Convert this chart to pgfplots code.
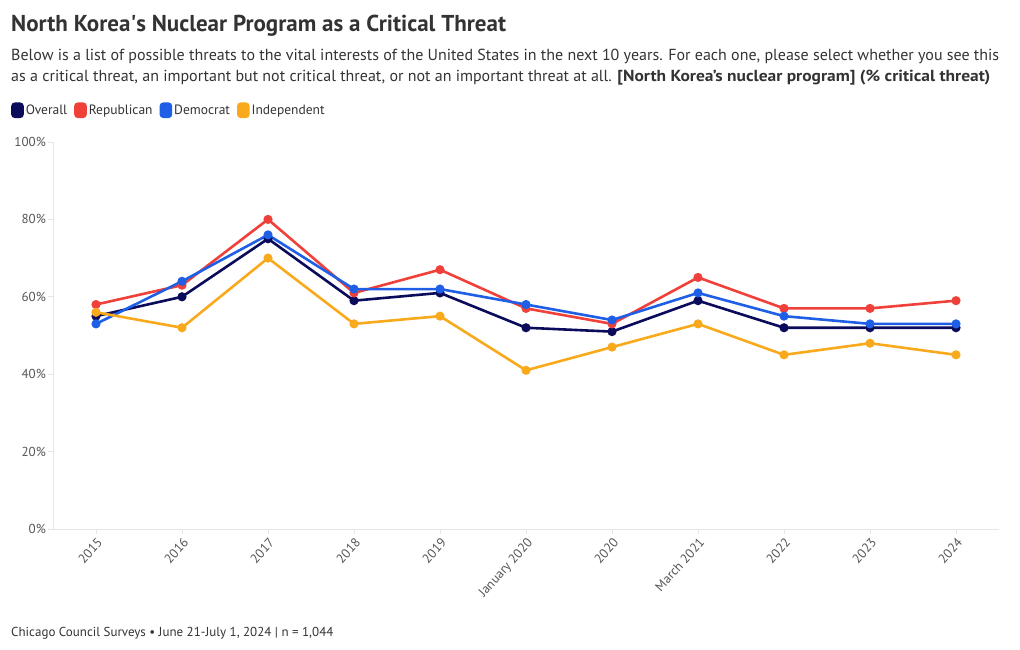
\documentclass[border=0pt]{standalone}
\usepackage{pgfplots}
\pgfplotsset{compat=1.18}
\usepackage{graphicx}
\usepackage{fontspec}
\setmainfont{PT Sans}
\definecolor{cOverall}{HTML}{0B0B5C}
\definecolor{cRep}{HTML}{F0403A}
\definecolor{cDem}{HTML}{1F5FE6}
\definecolor{cInd}{HTML}{F9A91C}
\definecolor{txt}{HTML}{333333}
\definecolor{tickc}{HTML}{555555}
\definecolor{axl}{HTML}{E6E6E6}
\begin{document}
\begin{tikzpicture}[x=1bp,y=1bp]
\path (0,0) rectangle (1020,650);
\node[anchor=base west, text=txt, font=\fontsize{23bp}{27bp}\selectfont\bfseries, inner sep=0] at (11,618) {North Korea\textquotesingle s Nuclear Program as a Critical Threat};
\node[anchor=base west, text=txt, font=\fontsize{16bp}{19bp}\selectfont, inner sep=0] at (11,589) {Below is a list of possible threats to the vital interests of the United States in the next 10 years. For each one, please select whether you see this};
\node[anchor=base west, text=txt, font=\fontsize{16bp}{19bp}\selectfont, inner sep=0] at (11,568) {as a critical threat, an important but not critical threat, or not an important threat at all. \scalebox{1.09}[1]{\textbf{[North Korea’s nuclear program] (\% critical threat)}}};
\node[anchor=base west, text=txt, font=\fontsize{13bp}{15bp}\selectfont, inner sep=0] at (11,13) {Chicago Council Surveys • June 21-July 1, 2024 | n = 1,044};
\begin{axis}[
  at={(53bp,121bp)}, anchor=south west, scale only axis,
  width=946bp, height=387bp,
  xmin=-0.5, xmax=10.5, ymin=0, ymax=100,
  axis x line*=bottom, axis y line*=left,
  axis line style={draw=axl, line width=0.8bp},
  xtick={0,...,10},
  xticklabels={2015,2016,2017,2018,2019,January 2020,2020,March 2021,2022,2023,2024},
  ytick={0,20,40,60,80,100},
  yticklabel={\pgfmathprintnumber{\tick}\%},
  /pgf/number format/assume math mode=true,
  tick style={draw=axl, line width=0.8bp},
  major tick length=5bp,
  tick align=outside,
  ticklabel style={font=\fontsize{13bp}{15bp}\selectfont, text=tickc},
  xticklabel style={rotate=48, anchor=north east, inner sep=2bp},
  yticklabel style={inner sep=2bp},
  clip=false,
  every axis plot/.append style={line width=2.6bp, mark=*, mark size=3.2bp, mark options={solid}},
  legend columns=-1,
  legend style={at={(-0.0444,1.082)}, anchor=west, draw=none, fill=none,
    font=\fontsize{13.5bp}{15bp}\selectfont, text=txt, inner sep=0pt,
    /tikz/every even column/.append style={column sep=5bp}},
  legend image code/.code={\fill[rounded corners=2.5bp] (0bp,-6.5bp) rectangle (10bp,6.5bp);},
]
\addplot[color=cOverall] coordinates {(0,55)(1,60)(2,75)(3,59)(4,61)(5,52)(6,51)(7,59)(8,52)(9,52)(10,52)};
\addlegendentry{Overall}
\addplot[color=cRep] coordinates {(0,58)(1,63)(2,80)(3,61)(4,67)(5,57)(6,53)(7,65)(8,57)(9,57)(10,59)};
\addlegendentry{Republican}
\addplot[color=cDem] coordinates {(0,53)(1,64)(2,76)(3,62)(4,62)(5,58)(6,54)(7,61)(8,55)(9,53)(10,53)};
\addlegendentry{Democrat}
\addplot[color=cInd] coordinates {(0,56)(1,52)(2,70)(3,53)(4,55)(5,41)(6,47)(7,53)(8,45)(9,48)(10,45)};
\addlegendentry{Independent}
\end{axis}
\end{tikzpicture}
\end{document}
